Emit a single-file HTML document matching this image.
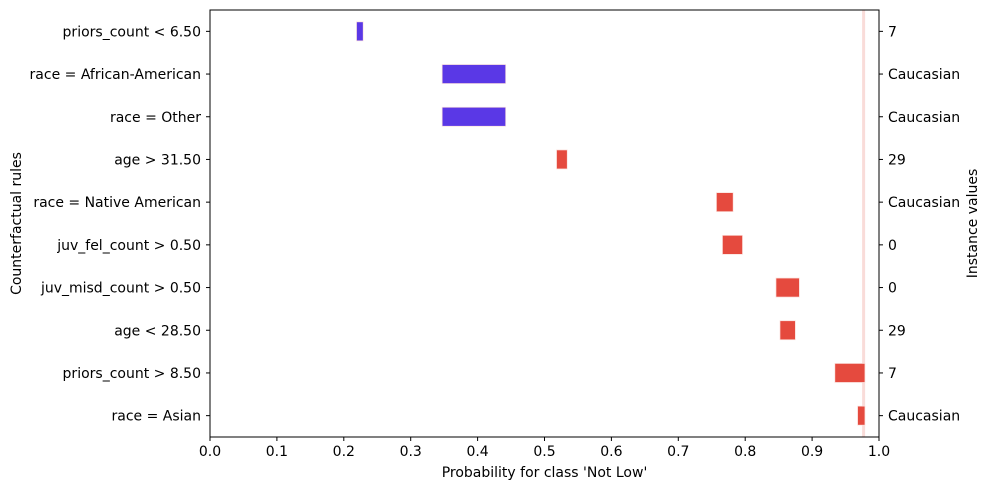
<!DOCTYPE html>
<html><head><meta charset="utf-8"><style>body{margin:0;background:#fff}svg{display:block;font-family:"DejaVu Sans","Liberation Sans",sans-serif}</style></head>
<body>
<svg id="c" width="990" height="490"></svg>
<script>
const rules=["priors_count < 6.50","race = African-American","race = Other","age > 31.50","race = Native American","juv_fel_count > 0.50","juv_misd_count > 0.50","age < 28.50","priors_count > 8.50","race = Asian"];
const instVals=["7","Caucasian","Caucasian","29","Caucasian","0","0","29","7","Caucasian"];
const lows=[0.219,0.347,0.347,0.518,0.757,0.766,0.846,0.852,0.934,0.968];
const highs=[0.229,0.442,0.442,0.534,0.782,0.796,0.881,0.875,0.979,0.979];
const colorGroup=["blue","blue","blue","red","red","red","red","red","red","red"];
const refProb=0.977;
const xTicks=[0,0.1,0.2,0.3,0.4,0.5,0.6,0.7,0.8,0.9,1.0];
const X0=210,X1=879,Y0=10,Y1=437;
const FS=14;
const sx=v=>X0+(X1-X0)*v;
const n=rules.length, step=(Y1-Y0)/n;
const sy=i=>Y0+step*(i+0.5);
const svg=document.getElementById('c');
const NS="http://www.w3.org/2000/svg";
function mk(t,a,txt){const e=document.createElementNS(NS,t);for(const k in a)e.setAttribute(k,a[k]);if(txt!==undefined)e.textContent=txt;svg.appendChild(e);return e;}
let e=mk('line',{x1:sx(refProb),x2:sx(refProb),y1:Y0,y2:Y1,stroke:'#f9dcd9','stroke-width':3});


for(let i=0;i<n;i++){
 const y=sy(i);
 e=mk('rect',{x:sx(lows[i]),y:y-9.5,width:sx(highs[i])-sx(lows[i]),height:19,fill:colorGroup[i]==='blue'?'#5a38e6':'#e54a3e',stroke:'#fbe0dc','stroke-width':0.7});
 
 
 mk('line',{x1:X0-4,x2:X0,y1:y,y2:y,stroke:'#000'});
 e=mk('text',{x:X0-9,y:y+5,'text-anchor':'end','font-size':FS},rules[i]);
 
 
 mk('line',{x1:X1,x2:X1+4,y1:y,y2:y,stroke:'#000'});
 e=mk('text',{x:X1+9,y:y+5,'font-size':FS},instVals[i]);
 
 
}
for(const t of xTicks){
 const x=sx(t);
 mk('line',{x1:x,x2:x,y1:Y1,y2:Y1+4,stroke:'#000'});
 e=mk('text',{x:x,y:Y1+19,'text-anchor':'middle','font-size':FS},t.toFixed(1));
 
 
}
e=mk('rect',{x:X0,y:Y0,width:X1-X0,height:Y1-Y0,fill:'none',stroke:'#000','stroke-width':1});


e=mk('text',{x:(X0+X1)/2,y:477,'text-anchor':'middle','font-size':FS},"Probability for class 'Not Low'");


e=mk('text',{x:0,y:0,'text-anchor':'middle','font-size':FS,transform:`translate(21,${(Y0+Y1)/2}) rotate(-90)`},"Counterfactual rules");


e=mk('text',{x:0,y:0,'text-anchor':'middle','font-size':FS,transform:`translate(977,${(Y0+Y1)/2}) rotate(-90)`},"Instance values");


</script>
</body></html>
